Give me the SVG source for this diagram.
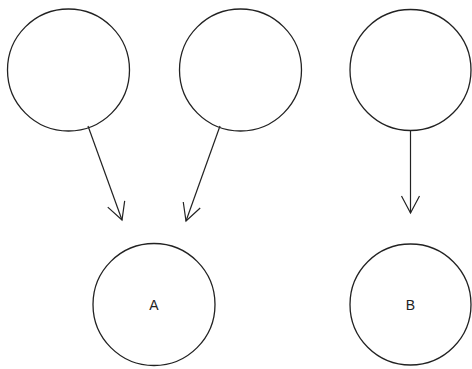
<svg xmlns="http://www.w3.org/2000/svg" width="472" height="369" viewBox="0 0 472 369">
<defs>
<marker id="arr" viewBox="-20 -12 22 24" markerWidth="22" markerHeight="24" refX="0" refY="0" orient="auto" markerUnits="userSpaceOnUse">
<path d="M-17,-9 L0,0 L-17,9" fill="none" stroke="#222" stroke-width="1.2"/>
</marker>
<style>
.n{fill:#fff;stroke:#222;stroke-width:1.3}
.t{font-family:"Liberation Sans",Arial,sans-serif;font-size:14px;fill:#222;text-anchor:middle}
.e{stroke:#222;stroke-width:1.2;fill:none;marker-end:url(#arr)}
</style>
</defs>
<rect width="472" height="369" fill="#fff"/>
<g id="n1"><circle class="n" cx="68.5" cy="70" r="61"/></g>
<g id="n2"><circle class="n" cx="240.5" cy="70" r="61"/></g>
<g id="n3"><circle class="n" cx="410.5" cy="70" r="60.5"/></g>
<g id="A"><circle class="n" cx="154" cy="304.5" r="61"/><text class="t" x="154" y="310">A</text></g>
<g id="B"><circle class="n" cx="410.5" cy="304.5" r="60.5"/><text class="t" x="410.5" y="310">B</text></g>
<g id="edges">
<line class="e" x1="88" y1="126" x2="122" y2="220"/>
<line class="e" x1="220" y1="126" x2="186" y2="221"/>
<line class="e" x1="410.5" y1="131" x2="410.5" y2="213"/>
</g>
</svg>
